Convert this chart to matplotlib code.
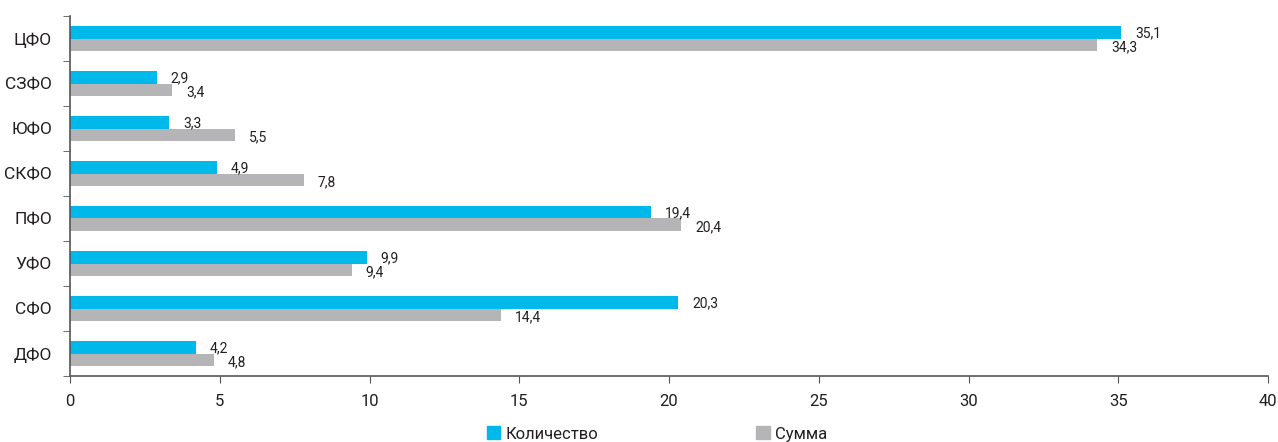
import matplotlib.pyplot as plt
import numpy as np
from matplotlib.patches import Patch

regions = ["ЦФО", "СЗФО", "ЮФО", "СКФО", "ПФО", "УФО", "СФО", "ДФО"]
count_share = [35.1, 2.9, 3.3, 4.9, 19.4, 9.9, 20.3, 4.2]
sum_share = [34.3, 3.4, 5.5, 7.8, 20.4, 9.4, 14.4, 4.8]
series_names = ["Количество", "Сумма"]

BLUE = "#00B9EB"
GRAY = "#B5B5B7"
TEXT = "#231F20"

plt.rcParams["font.family"] = ["Roboto", "DejaVu Sans"]

fig = plt.figure(figsize=(12.78, 4.42), dpi=100)
ax = fig.add_axes([70 / 1278, 1 - 376 / 442, 1198 / 1278, 360 / 442])

y = np.arange(len(regions))
h = 0.267
ax.barh(y - h / 2, count_share, height=h, color=BLUE)
ax.barh(y + h / 2, sum_share, height=h, color=GRAY)

# подписи значений справа от столбцов
for yi, v in zip(y, count_share):
    ax.annotate(f"{v:.1f}".replace(".", ","), (v, yi - h / 2), xytext=(14, -1),
                textcoords="offset pixels", ha="left", va="center",
                fontsize=10, color=TEXT)
for yi, v in zip(y, sum_share):
    ax.annotate(f"{v:.1f}".replace(".", ","), (v, yi + h / 2), xytext=(14, -3),
                textcoords="offset pixels", ha="left", va="center",
                fontsize=10, color=TEXT)

ax.set_xlim(0, 40)
ax.set_ylim(len(regions) - 0.5, -0.5)
ax.set_xticks(range(0, 41, 5))
ax.set_yticks(y)
ax.set_yticklabels(regions, fontsize=12.5, color=TEXT)
ax.set_yticks(np.arange(-0.5, len(regions)), minor=True)
ax.tick_params(axis="y", which="major", length=0, pad=13)
ax.tick_params(axis="y", which="minor", length=5, direction="out", color="#555555")
ax.tick_params(axis="x", length=5, direction="out", color="#555555",
               labelsize=12, labelcolor=TEXT, pad=8)

for s in ["top", "right"]:
    ax.spines[s].set_visible(False)
for s in ["left", "bottom"]:
    ax.spines[s].set_color("#555555")
    ax.spines[s].set_linewidth(1.2)

handles = [Patch(color=BLUE), Patch(color=GRAY)]
fig.legend(handles, series_names, loc="center", ncol=2, frameon=False,
           bbox_to_anchor=(0.514, 8 / 442), fontsize=12, handlelength=0.8,
           handleheight=0.8, handletextpad=0.3, columnspacing=9.5,
           labelcolor=TEXT)

fig.savefig("out.png", dpi=100)
